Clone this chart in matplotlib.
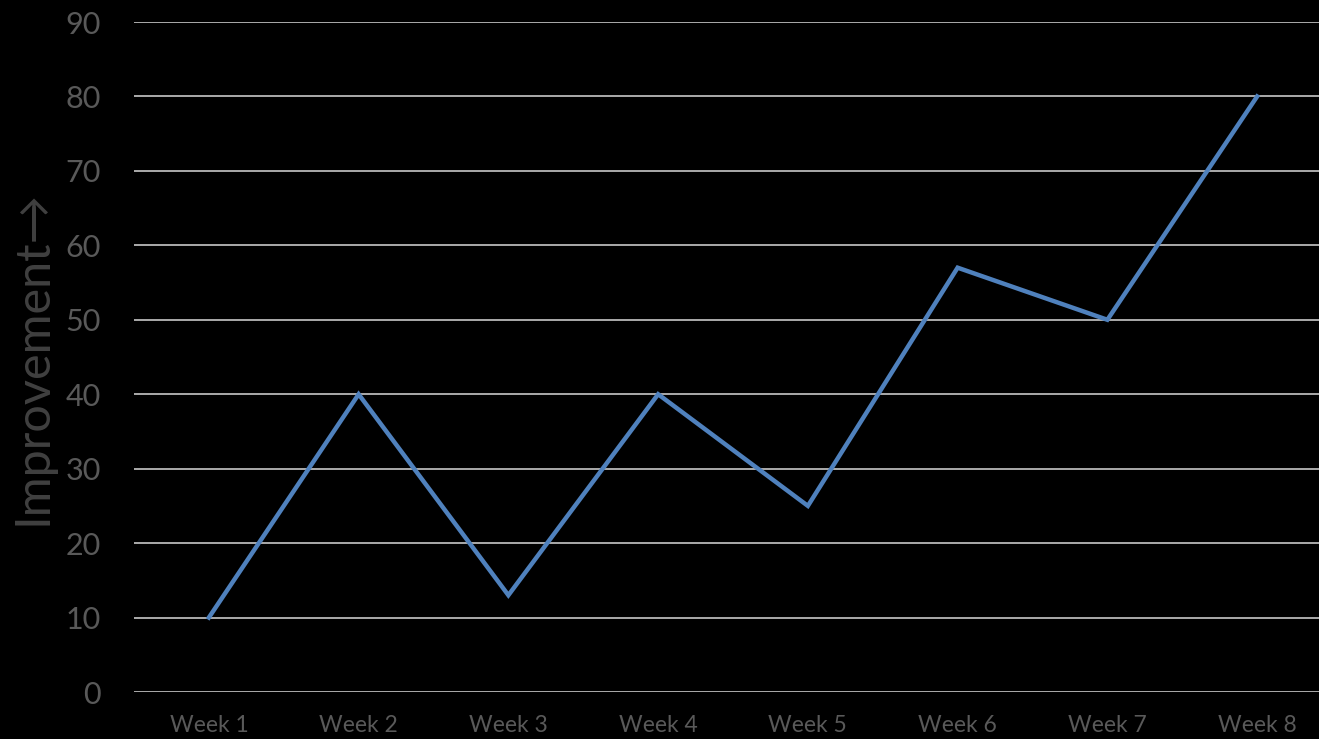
import matplotlib
matplotlib.use("Agg")
import matplotlib.pyplot as plt

weeks = ["Week 1", "Week 2", "Week 3", "Week 4", "Week 5", "Week 6", "Week 7", "Week 8"]
improvement = [10, 40, 13, 40, 25, 57, 50, 80]
y_ticks = [0, 10, 20, 30, 40, 50, 60, 70, 80, 90]

plt.rcParams["font.family"] = ["Lato", "DejaVu Sans"]

fig = plt.figure(figsize=(13.19, 7.39), dpi=100, facecolor="black")
ax = fig.add_axes([134 / 1319, 47 / 739, 1198 / 1319, 670 / 739], facecolor="black")

x = list(range(len(weeks)))
ax.plot(x, improvement, color="#4F81BD", linewidth=3.2, solid_joinstyle="miter", zorder=3)

ax.set_xlim(-0.5, len(weeks) - 0.5)
ax.set_ylim(0, 90)
ax.set_yticks(y_ticks)
ax.set_xticks(x)
ax.set_xticklabels(weeks)

ax.grid(axis="y", color="#D9D9D9", linewidth=1.1)
ax.set_axisbelow(True)
for s in ax.spines.values():
    s.set_visible(False)

ax.tick_params(axis="y", length=0, pad=24, labelsize=22, labelcolor="#595959")
ax.tick_params(axis="x", length=0, pad=16.5, labelsize=16.5, labelcolor="#595959")

ax.set_ylabel("Improvement\u2192", fontsize=35, color="#404040", labelpad=8)

fig.savefig("out.png", dpi=100, facecolor="black")
